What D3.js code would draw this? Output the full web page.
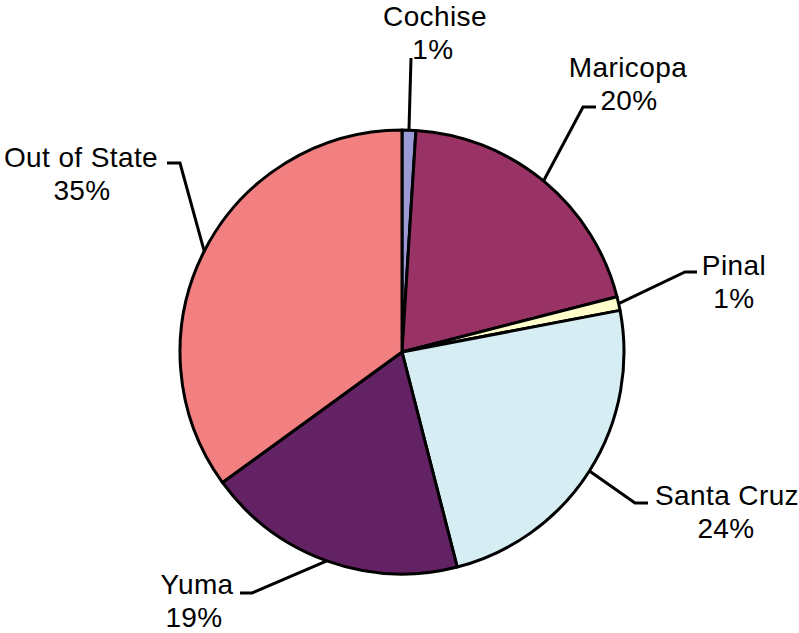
<!DOCTYPE html>
<html><head><meta charset="utf-8">
<script src="https://cdn.jsdelivr.net/npm/d3@7/dist/d3.min.js"></script>
<style>body{margin:0;background:#fff}svg{display:block}</style>
</head><body>
<svg id="c" width="799" height="633"></svg>
<script>
const categories = ["Cochise","Maricopa","Pinal","Santa Cruz","Yuma","Out of State"];
const values = [1,20,1,24,19,35];
const colors = ["#9A9AD6","#993366","#FFFFCC","#D5EDF3","#632263","#F28080"];
// label layout: elbow point, horizontal end, text centre x (line1, line2), first baseline
const elbows = [[411,58],[583,107],[685,272],[635,503],[252,593],[180,163]];
const hEnds  = [[411,58],[596,107],[697,272],[648,503],[240,593],[167,163]];
const textPos = [[435,26,433],[628,77,629],[734,275,734],[727,505,726],[197,594,194],[81,167,82]];

const svg = d3.select("#c");
const cx = 402, cy = 352, R = 222;
const g = svg.append("g").attr("transform",`translate(${cx},${cy})`);
const pie = d3.pie().value(d=>d.v).sort(null);
const data = categories.map((c,i)=>({c, v:values[i], col:colors[i]}));
const arcs = pie(data);
const arc = d3.arc().innerRadius(0).outerRadius(R);
g.selectAll("path").data(arcs).join("path")
  .attr("d",arc).attr("fill",d=>d.data.col)
  .attr("stroke","#000").attr("stroke-width",3).attr("stroke-linejoin","round");

arcs.forEach((a,i)=>{
  const m=(a.startAngle+a.endAngle)/2;
  const ex=cx+R*Math.sin(m), ey=cy-R*Math.cos(m);
  const pts=[[ex,ey],elbows[i],hEnds[i]];
  svg.append("path").attr("d",d3.line()(pts)).attr("fill","none")
    .attr("stroke","#000").attr("stroke-width",3);
  const tp=textPos[i];
  svg.append("text").attr("x",tp[0]).attr("y",tp[1]).attr("text-anchor","middle")
    .attr("font-family","Liberation Sans, Arial, sans-serif").attr("font-size",28)
    .attr("letter-spacing",0.4)
    .text(a.data.c);
  svg.append("text").attr("x",tp[2]).attr("y",tp[1]+33).attr("text-anchor","middle")
    .attr("font-family","Liberation Sans, Arial, sans-serif").attr("font-size",28)
    .attr("letter-spacing",0.4)
    .text(d3.format(".0%")(a.data.v/100));
});
</script>
</body></html>
